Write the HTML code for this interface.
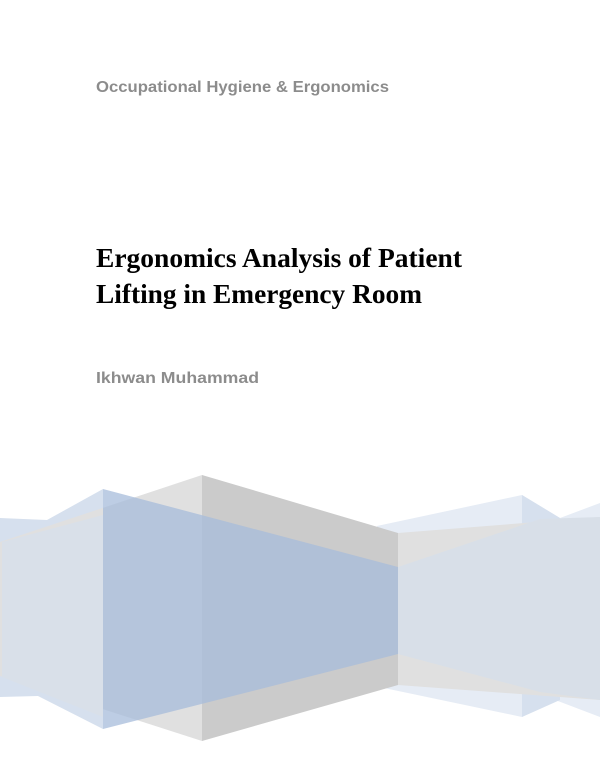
<!DOCTYPE html>
<html><head><meta charset="utf-8"><style>
html,body{margin:0;padding:0;background:#fff;}
svg{display:block;}
</style></head><body>
<svg width="600" height="776" viewBox="0 0 600 776" xmlns="http://www.w3.org/2000/svg">
<rect width="600" height="776" fill="#fff"/>
<text x="96" y="92" font-family="Liberation Sans, sans-serif" font-weight="bold" font-size="15.5" fill="#8c8c8c" textLength="293" lengthAdjust="spacingAndGlyphs">Occupational Hygiene &amp; Ergonomics</text>
<text x="96" y="267" font-family="Liberation Serif, serif" font-weight="bold" font-size="27" fill="#000" textLength="366" lengthAdjust="spacingAndGlyphs">Ergonomics Analysis of Patient</text>
<text x="96" y="303" font-family="Liberation Serif, serif" font-weight="bold" font-size="27" fill="#000" textLength="326" lengthAdjust="spacingAndGlyphs">Lifting in Emergency Room</text>
<text x="96" y="383" font-family="Liberation Sans, sans-serif" font-weight="bold" font-size="15.5" fill="#8c8c8c" textLength="163" lengthAdjust="spacingAndGlyphs">Ikhwan Muhammad</text>

<polygon points="377,526 522,495 560,518 600,503 600,717 550,698 522,717 384,688" fill="#e6ecf5"/>
<polygon points="522,495 560,518 560,700 522,717" fill="#d6e0ee"/>
<polygon points="0,518 47,520 103,489 103,729 38,696 0,697" fill="#d6e0ee"/>
<polygon points="0,542 202,475 202,741 0,676" fill="#e0e0e0"/>
<polygon points="202,475 398,533 398,685 202,741" fill="#cbcbcb"/>
<polygon points="398,533 600,517 600,700 398,685" fill="#e0e0e0"/>
<polygon points="103,489 398,567 398,654 103,729" fill="#a7bcdb" fill-opacity="0.75"/>
<polygon points="2,542 103,515 103,717 2,677" fill="#d9e0e9"/>
<polygon points="398,567 540,519 600,517 600,700 540,692 398,654" fill="#d8dfe8"/>
</svg>
</body></html>
